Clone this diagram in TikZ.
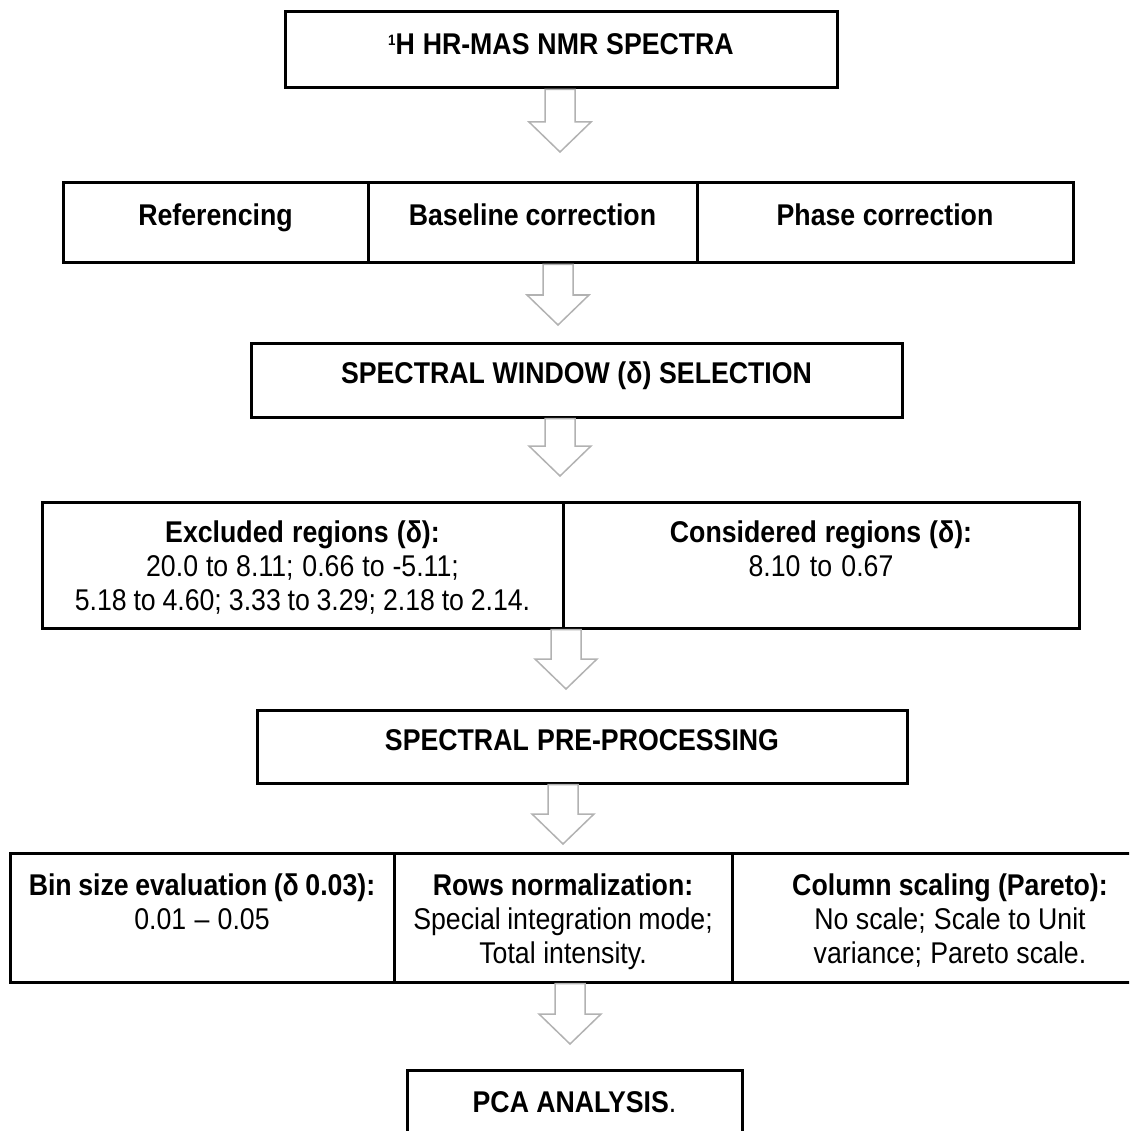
\documentclass[tikz,border=0pt]{standalone}
\usepackage{fontspec}
\setmainfont[FakeStretch=0.89]{Liberation Sans}
\usetikzlibrary{positioning,calc}

\tikzset{
 box/.style={draw, line width=3pt, inner sep=0pt, outer sep=0pt, anchor=north west, align=center, text height=41pt, font=\fontsize{30}{34}\selectfont, execute at begin node={\spaceskip=6.2pt plus 1pt\relax}},
 hollow/.style={draw=gray!60, line width=1.5pt, fill=white, line join=miter}
}
\newcommand{\flowarrow}[2]{%
 \draw[hollow] let \p1=(#1), \p2=(#2) in (\x2-15pt,\y1-1.5pt) -- (\x2+15pt,\y1-1.5pt) -- (\x2+15pt,\y2+30pt) -- (\x2+31pt,\y2+30pt) -- (\x2,\y2) -- (\x2-31pt,\y2+30pt) -- (\x2-15pt,\y2+30pt) -- cycle;}
\newcommand{\smallsup}[1]{\raisebox{9pt}{\fontsize{15}{15}\selectfont #1}}

\begin{document}
\begin{tikzpicture}[x=1pt,y=-1pt]
\useasboundingbox (0,0) rectangle (1129,1131);
\clip (0,0) rectangle (1129,1131);
\node[box, text width=552pt, text height=43pt, text depth=33pt] (spectra) at (285,12) {\textbf{\smallsup{1}H HR-MAS NMR SPECTRA}};
\node[box, text width=305pt, text height=43pt, text depth=37pt] (ref) at (63,183) {\textbf{Referencing}};
\node[box, text width=329pt, text height=43pt, text depth=37pt, right=0pt of ref] (base) {\textbf{Baseline correction}};
\node[box, text width=376pt, text height=43pt, text depth=37pt, right=0pt of base] (phase) {\textbf{Phase correction}};
\node[box, text width=651pt, text height=40pt, text depth=34pt] (window) at (251,343) {\textbf{SPECTRAL WINDOW (δ) SELECTION}};
\node[box, text width=521pt, text height=40pt, text depth=86pt] (excl) at (42,502) {\textbf{Excluded regions (δ):}\\ 20.0 to 8.11; 0.66 to -5.11;\\ 5.18 to 4.60; 3.33 to 3.29; 2.18 to 2.14.};
\node[box, text width=516pt, text height=40pt, text depth=86pt, right=0pt of excl] (cons) {\textbf{Considered regions (δ):}\\ 8.10 to 0.67};
\node[box, text width=650pt, text height=40pt, text depth=33pt] (prep) at (257,710) {\textbf{SPECTRAL PRE-PROCESSING}};
\node[box, text width=384pt, text height=42pt, text depth=87pt] (bin) at (10,853) {\textbf{Bin size evaluation (δ 0.03):}\\ 0.01 – 0.05};
\node[box, text width=338pt, text height=42pt, text depth=87pt, right=0pt of bin] (rows) {\textbf{Rows normalization:}\\ Special integration mode;\\ Total intensity.};
\node[box, text width=436pt, text height=42pt, text depth=87pt, right=0pt of rows] (cols) {\textbf{Column scaling (Pareto):}\\ No scale; Scale to Unit\\ variance; Pareto scale.};
\node[box, text width=335pt, text height=42pt, text depth=48pt] (pca) at (407,1070) {\textbf{PCA ANALYSIS}.};

\coordinate (t1) at (560,152);
\coordinate (t2) at (558,325);
\coordinate (t3) at (560,476);
\coordinate (t4) at (566,689);
\coordinate (t5) at (563,844);
\coordinate (t6) at (570,1044);
\flowarrow{spectra.south}{t1}
\flowarrow{base.south}{t2}
\flowarrow{window.south}{t3}
\flowarrow{excl.south}{t4}
\flowarrow{prep.south}{t5}
\flowarrow{rows.south}{t6}
\end{tikzpicture}
\end{document}
